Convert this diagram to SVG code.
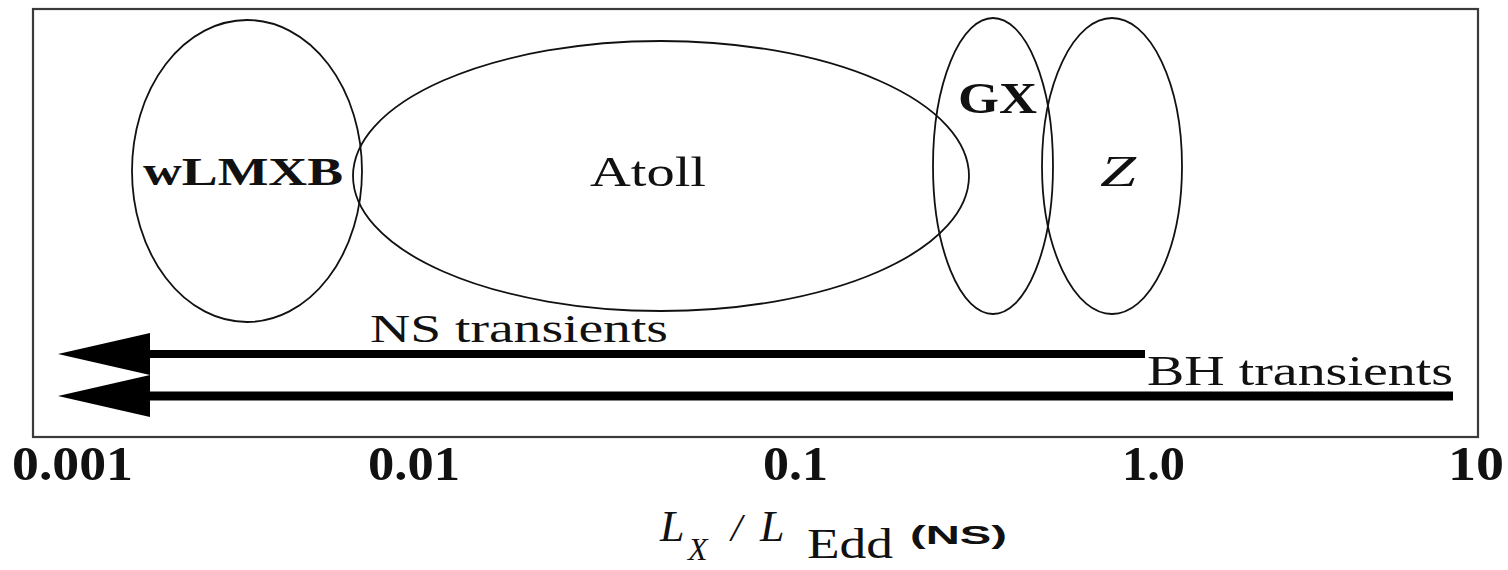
<svg xmlns="http://www.w3.org/2000/svg" width="1508" height="570" viewBox="0 0 1508 570">
<style>
.bg{fill:#ffffff}
.frame{fill:none;stroke:#3a3a3a;stroke-width:2.2}
.ell{fill:none;stroke:#111;stroke-width:1.8}
.serif{font-family:"Liberation Serif","Times New Roman",serif;fill:#111}
.bold{font-weight:bold}
.ital{font-style:italic}
.sans{font-family:"Liberation Sans",Arial,sans-serif;fill:#111}
.arrow{stroke:#000;fill:none}
</style>
<defs>
<marker id="head" viewBox="0 -21 92 42" refX="0" refY="0" markerWidth="92" markerHeight="42" markerUnits="userSpaceOnUse" orient="auto">
<path d="M0,-21 L92,0 L0,21 Z" fill="#000"/>
</marker>
</defs>
<rect class="bg" x="0" y="0" width="1508" height="570"/>
<rect id="frame" class="frame" x="33" y="9" width="1445" height="428"/>

<g id="node-wlmxb">
<ellipse class="ell" cx="247" cy="171" rx="115" ry="151"/>
<text class="serif bold" x="143" y="185" font-size="40" textLength="200" lengthAdjust="spacingAndGlyphs">wLMXB</text>
</g>
<g id="node-atoll">
<ellipse class="ell" cx="661" cy="176" rx="308" ry="135"/>
<text class="serif" x="590" y="186" font-size="42" textLength="116" lengthAdjust="spacingAndGlyphs">Atoll</text>
</g>
<g id="node-gx">
<ellipse class="ell" cx="993" cy="166" rx="60" ry="148"/>
<text class="serif bold" x="958" y="113" font-size="44" textLength="79" lengthAdjust="spacingAndGlyphs">GX</text>
</g>
<g id="node-z">
<ellipse class="ell" cx="1112" cy="166" rx="70" ry="148"/>
<text class="serif ital" x="1100" y="186" font-size="44" textLength="36" lengthAdjust="spacingAndGlyphs">Z</text>
</g>

<g id="connectors">
<line class="arrow" x1="1145" y1="354" x2="150" y2="354" stroke-width="8" marker-end="url(#head)"/>
<line class="arrow" x1="1453" y1="396" x2="150" y2="396" stroke-width="9" marker-end="url(#head)"/>
</g>

<g id="labels">
<text class="serif" x="370" y="342" font-size="40" textLength="298" lengthAdjust="spacingAndGlyphs">NS transients</text>
<text class="serif" x="1147" y="385" font-size="42" textLength="306" lengthAdjust="spacingAndGlyphs">BH transients</text>
</g>

<g id="axis">
<text class="serif bold" x="12" y="480" font-size="48" textLength="121" lengthAdjust="spacingAndGlyphs">0.001</text>
<text class="serif bold" x="368" y="480" font-size="48" textLength="92" lengthAdjust="spacingAndGlyphs">0.01</text>
<text class="serif bold" x="763" y="480" font-size="48" textLength="65" lengthAdjust="spacingAndGlyphs">0.1</text>
<text class="serif bold" x="1122" y="480" font-size="48" textLength="63" lengthAdjust="spacingAndGlyphs">1.0</text>
<text class="serif bold" x="1448" y="480" font-size="48" textLength="56" lengthAdjust="spacingAndGlyphs">10</text>
<text class="serif ital" x="660" y="541" font-size="44">L</text>
<text class="serif ital" x="688" y="560" font-size="32">X</text>
<text class="serif ital" x="731" y="541" font-size="40">/</text>
<text class="serif ital" x="760" y="541" font-size="44">L</text>
<text class="serif" x="807" y="558" font-size="42" textLength="86" lengthAdjust="spacingAndGlyphs">Edd</text>
<text class="sans" x="910" y="544" font-size="26" font-weight="bold" textLength="97" lengthAdjust="spacingAndGlyphs">(NS)</text>
</g>
</svg>
